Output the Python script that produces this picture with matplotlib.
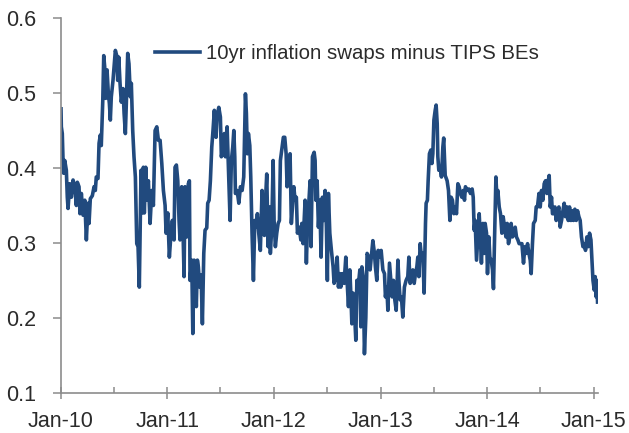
import numpy as np
import pandas as pd
import matplotlib
matplotlib.use("Agg")
import matplotlib.pyplot as plt
import matplotlib.dates as mdates
from matplotlib.ticker import MultipleLocator, FormatStrFormatter

plt.rcParams['font.family'] = ['Liberation Sans', 'DejaVu Sans']

series_label = "10yr inflation swaps minus TIPS BEs"

# time in years after 1 Jan 2010
t_years = [
    0.000, 0.003, 0.012, 0.019, 0.025, 0.035, 0.050, 0.059, 0.066, 0.082, 0.097, 0.113, 0.129, 0.144,
    0.153, 0.169, 0.178, 0.191, 0.207, 0.223, 0.238, 0.254, 0.263, 0.275, 0.294, 0.310, 0.322, 0.331,
    0.347, 0.357, 0.369, 0.378, 0.392, 0.401, 0.410, 0.420, 0.432, 0.444, 0.454, 0.463, 0.472, 0.488,
    0.498, 0.510, 0.523, 0.532, 0.542, 0.554, 0.566, 0.582, 0.592, 0.604, 0.613, 0.626, 0.638, 0.651,
    0.660, 0.673, 0.685, 0.698, 0.704, 0.711, 0.723,
    0.735, 0.751, 0.763, 0.773, 0.782, 0.795, 0.805, 0.820, 0.836, 0.852, 0.867, 0.883, 0.899, 0.914,
    0.930, 0.946, 0.961, 0.977, 0.986, 1.002, 1.017, 1.030, 1.045, 1.061, 1.070, 1.083, 1.096, 1.108,
    1.117, 1.133, 1.143, 1.155, 1.164, 1.180, 1.195, 1.205, 1.211, 1.227, 1.237, 1.249, 1.258, 1.270,
    1.280, 1.289, 1.302, 1.315, 1.327, 1.340, 1.352, 1.368, 1.377, 1.390, 1.402, 1.415, 1.427, 1.439,
    1.455, 1.465, 1.481, 1.496, 1.505, 1.521, 1.533, 1.543, 1.559, 1.575, 1.587, 1.599, 1.612, 1.622,
    1.631, 1.637, 1.653, 1.669, 1.684, 1.700, 1.715, 1.731, 1.740, 1.749, 1.759, 1.772, 1.781, 1.793,
    1.806, 1.819, 1.831, 1.843, 1.856, 1.871, 1.887, 1.897, 1.909, 1.918, 1.931, 1.944, 1.956, 1.965,
    1.978, 1.991, 2.000, 2.012, 2.025, 2.038, 2.050, 2.059, 2.075, 2.087, 2.100, 2.113, 2.122, 2.138,
    2.150, 2.162,
    2.185, 2.197, 2.209, 2.219, 2.235, 2.251, 2.260, 2.272, 2.291, 2.303, 2.316, 2.329, 2.338, 2.347,
    2.360, 2.376, 2.385, 2.392, 2.404, 2.416, 2.429, 2.441, 2.454, 2.467, 2.479, 2.491, 2.500, 2.510,
    2.523, 2.538, 2.554, 2.563, 2.579, 2.592, 2.604, 2.617, 2.626, 2.641, 2.657, 2.673, 2.688, 2.698,
    2.711, 2.720, 2.730, 2.742, 2.754, 2.767, 2.777, 2.789, 2.805, 2.814, 2.824, 2.836, 2.848, 2.861,
    2.873,
    2.889, 2.901, 2.927, 2.942, 2.951, 2.964, 2.977, 2.989, 3.005, 3.021, 3.036, 3.045, 3.058, 3.068,
    3.083, 3.096, 3.108, 3.120, 3.133, 3.146, 3.162, 3.171, 3.183, 3.195, 3.208, 3.223, 3.239, 3.255,
    3.265, 3.277, 3.289, 3.302, 3.315, 3.327, 3.340, 3.349, 3.359, 3.371, 3.383, 3.396, 3.408, 3.421,
    3.427, 3.439, 3.446, 3.458, 3.471, 3.481, 3.490, 3.500, 3.512, 3.521, 3.531, 3.537, 3.546, 3.559,
    3.571, 3.584, 3.592, 3.606,
    3.624, 3.637, 3.650, 3.662, 3.674, 3.687, 3.700, 3.712, 3.725, 3.737, 3.749, 3.762, 3.775, 3.787,
    3.796, 3.812, 3.828, 3.843, 3.859, 3.869, 3.878, 3.887, 3.900, 3.913, 3.925, 3.937, 3.946, 3.960,
    3.972, 3.981, 3.994, 4.003, 4.016, 4.025, 4.038, 4.050, 4.059, 4.069, 4.082, 4.091, 4.100, 4.113,
    4.125, 4.138, 4.150, 4.163, 4.176, 4.188, 4.200, 4.213, 4.225, 4.238, 4.251, 4.263, 4.275, 4.288,
    4.300,
    4.326, 4.341, 4.354, 4.366, 4.379, 4.392, 4.404, 4.413, 4.425, 4.435, 4.451, 4.460, 4.472, 4.486,
    4.498, 4.510, 4.523, 4.535, 4.548, 4.561, 4.573, 4.582, 4.592, 4.604, 4.613, 4.623, 4.636, 4.648,
    4.660, 4.673, 4.685, 4.698, 4.711, 4.723, 4.735, 4.749, 4.761, 4.773, 4.786, 4.798, 4.810, 4.823,
    4.836, 4.848, 4.861, 4.873, 4.885, 4.899, 4.911, 4.923, 4.936, 4.948, 4.961, 4.974, 4.983, 4.993,
    5.005, 5.014, 5.023, 5.030, 5.036,
]

spread = [
    0.479, 0.455, 0.446, 0.410, 0.393, 0.410, 0.397, 0.361, 0.346, 0.379, 0.361, 0.384, 0.375, 0.350,
    0.381, 0.375, 0.339, 0.366, 0.337, 0.357, 0.304, 0.353, 0.326, 0.359, 0.363, 0.375, 0.370, 0.388,
    0.386, 0.433, 0.444, 0.430, 0.490, 0.550, 0.535, 0.493, 0.531, 0.500, 0.486, 0.464, 0.495, 0.517,
    0.535, 0.557, 0.550, 0.517, 0.548, 0.513, 0.488, 0.506, 0.473, 0.446, 0.486, 0.553, 0.539, 0.495,
    0.513, 0.450, 0.415, 0.388, 0.348, 0.299, 0.295,
    0.241, 0.397, 0.340, 0.401, 0.340, 0.401, 0.357, 0.383, 0.326, 0.370, 0.350, 0.450, 0.455, 0.437,
    0.437, 0.406, 0.370, 0.350, 0.313, 0.340, 0.281, 0.308, 0.330, 0.304, 0.401, 0.404, 0.383, 0.330,
    0.304, 0.375, 0.330, 0.255, 0.375, 0.308, 0.379, 0.383, 0.250, 0.277, 0.179, 0.277, 0.268, 0.215,
    0.277, 0.268, 0.241, 0.257, 0.192, 0.286, 0.317, 0.320, 0.353, 0.357, 0.383, 0.428, 0.451, 0.477,
    0.441, 0.470, 0.481, 0.468, 0.415, 0.428, 0.446, 0.415, 0.455, 0.383, 0.330, 0.410, 0.428, 0.450,
    0.415, 0.366, 0.370, 0.353, 0.375, 0.370, 0.388, 0.499, 0.473, 0.419, 0.446, 0.430, 0.388, 0.313,
    0.250, 0.330, 0.321, 0.339, 0.313, 0.290, 0.370, 0.330, 0.310, 0.353, 0.392, 0.295, 0.348, 0.286,
    0.321, 0.410, 0.330, 0.295, 0.313, 0.326, 0.330, 0.410, 0.428, 0.441, 0.441, 0.419, 0.375, 0.397,
    0.419, 0.326,
    0.375, 0.357, 0.361, 0.313, 0.321, 0.304, 0.326, 0.299, 0.357, 0.273, 0.335, 0.361, 0.383, 0.295,
    0.415, 0.421, 0.410, 0.357, 0.383, 0.321, 0.357, 0.281, 0.361, 0.330, 0.370, 0.321, 0.250, 0.366,
    0.313, 0.290, 0.268, 0.246, 0.255, 0.281, 0.241, 0.259, 0.241, 0.259, 0.246, 0.281, 0.241, 0.215,
    0.264, 0.233, 0.192, 0.233, 0.210, 0.170, 0.250, 0.241, 0.264, 0.188, 0.268, 0.255, 0.152, 0.200,
    0.286,
    0.281, 0.264, 0.303, 0.286, 0.268, 0.250, 0.290, 0.281, 0.290, 0.264, 0.259, 0.228, 0.241, 0.210,
    0.273, 0.250, 0.228, 0.250, 0.224, 0.210, 0.277, 0.250, 0.224, 0.228, 0.201, 0.241, 0.250, 0.255,
    0.281, 0.246, 0.259, 0.264, 0.246, 0.259, 0.268, 0.281, 0.255, 0.299, 0.281, 0.286, 0.233, 0.326,
    0.353, 0.357, 0.383, 0.419, 0.424, 0.406, 0.419, 0.464, 0.477, 0.484, 0.459, 0.415, 0.397, 0.401,
    0.388, 0.428, 0.440, 0.390,
    0.383, 0.370, 0.330, 0.361, 0.357, 0.339, 0.348, 0.339, 0.379, 0.375, 0.366, 0.361, 0.370, 0.357,
    0.375, 0.370, 0.372, 0.366, 0.372, 0.361, 0.317, 0.330, 0.277, 0.308, 0.339, 0.304, 0.273, 0.326,
    0.286, 0.326, 0.313, 0.259, 0.308, 0.281, 0.277, 0.264, 0.239, 0.304, 0.388, 0.361, 0.370, 0.348,
    0.339, 0.313, 0.335, 0.321, 0.308, 0.326, 0.299, 0.308, 0.326, 0.308, 0.313, 0.321, 0.308, 0.304,
    0.299,
    0.299, 0.273, 0.295, 0.286, 0.299, 0.286, 0.277, 0.259, 0.299, 0.326, 0.330, 0.348, 0.348, 0.366,
    0.348, 0.370, 0.357, 0.379, 0.383, 0.366, 0.383, 0.390, 0.348, 0.361, 0.339, 0.339, 0.348, 0.330,
    0.343, 0.348, 0.321, 0.330, 0.343, 0.353, 0.335, 0.348, 0.330, 0.348, 0.330, 0.343, 0.330, 0.345,
    0.330, 0.343, 0.335, 0.330, 0.308, 0.295, 0.299, 0.290, 0.308, 0.295, 0.313, 0.304, 0.277, 0.250,
    0.237, 0.255, 0.228, 0.250, 0.221,
]

dates = pd.Timestamp("2010-01-01") + pd.to_timedelta(np.array(t_years) * 365.25, unit="D")

line_color = "#214a7e"
axis_color = "#8c8c8c"
text_color = "#2b2b2b"

fig = plt.figure(figsize=(6.29, 4.33), dpi=100)
ax = fig.add_axes([0.097, 0.093, 0.853, 0.865])

ax.plot(dates, spread, color=line_color, lw=2.6, solid_joinstyle="round",
        label=series_label)

ax.set_xlim(dates[0], dates[-1])
ax.set_ylim(0.1, 0.6)

for side in ["top", "right"]:
    ax.spines[side].set_visible(False)
for side in ["left", "bottom"]:
    ax.spines[side].set_color(axis_color)
    ax.spines[side].set_linewidth(1.2)

ax.yaxis.set_major_locator(MultipleLocator(0.1))
ax.yaxis.set_major_formatter(FormatStrFormatter("%.1f"))
ax.xaxis.set_major_locator(mdates.MonthLocator(bymonth=1))
ax.xaxis.set_minor_locator(mdates.MonthLocator(bymonth=7))
ax.xaxis.set_major_formatter(mdates.DateFormatter("%b-%y"))

ax.tick_params(axis="y", which="major", direction="out", length=5.8, width=1.1,
               color=axis_color, pad=12, labelsize=15.5, labelcolor=text_color)
ax.tick_params(axis="x", which="major", direction="inout", length=8.6, width=1.1,
               color=axis_color, pad=9, labelsize=15.5, labelcolor=text_color)
ax.tick_params(axis="x", which="minor", direction="in", length=4.3, width=1.1,
               color=axis_color)

ax.legend(loc="center left", bbox_to_anchor=(0.175, 0.906), frameon=False,
          fontsize=14.7, handlelength=2.2, handletextpad=0.3,
          borderpad=0, borderaxespad=0, labelcolor=text_color)

fig.savefig("out.png", dpi=100)
